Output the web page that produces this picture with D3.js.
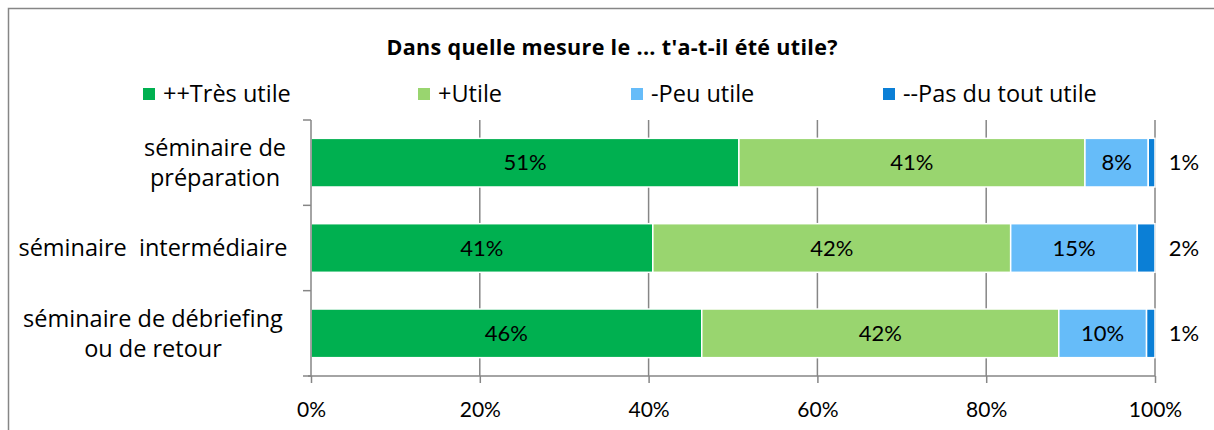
<!DOCTYPE html>
<html>
<head>
<meta charset="utf-8">
<script src="https://cdn.jsdelivr.net/npm/d3@7"></script>
<style>
  body { margin: 0; background: #fff; }
  svg { display: block; font-family: "Open Sans", Lato, sans-serif; }
</style>
</head>
<body>
<div id="chart"></div>
<script>
const categories = [
  ["séminaire de", "préparation"],
  ["séminaire  intermédiaire"],
  ["séminaire de débriefing", "ou de retour"]
];
const series = ["++Très utile", "+Utile", "-Peu utile", "--Pas du tout utile"];
const colors = ["#00b050", "#99d56f", "#66bcf9", "#0b7fd6"];
// values (percent)
const tresUtile = [50.7, 40.5, 46.3];
const utile = [41.0, 42.4, 42.3];
const peuUtile = [7.5, 15.0, 10.4];
const pasDuTout = [0.8, 2.1, 1.0];
const labels = [
  ["51%", "41%", "8%", "1%"],
  ["41%", "42%", "15%", "2%"],
  ["46%", "42%", "10%", "1%"]
];
const xTicks = [0, 20, 40, 60, 80, 100];

const width = 1214, height = 430;
const margin = { top: 120, bottom: 54, left: 311, right: 59 };
const numFont = "Lato, 'Open Sans', sans-serif";

const svg = d3.select("#chart").append("svg")
  .attr("width", width)
  .attr("height", height);

// outer frame (only top and left visible)
svg.append("path")
  .attr("d", `M8.5,${height} V8.5 H${width}`)
  .attr("fill", "none")
  .attr("stroke", "#868686")
  .attr("stroke-width", 1.5);

svg.append("text")
  .attr("x", 612)
  .attr("y", 55)
  .attr("text-anchor", "middle")
  .attr("font-weight", "bold")
  .attr("font-size", 21.5)
  .attr("textLength", 451)
  .text("Dans quelle mesure le ... t'a-t-il été utile?");

const legendX = [143, 418, 631, 883];
const legend = svg.append("g").selectAll("g")
  .data(series)
  .enter()
  .append("g")
  .attr("transform", (d, i) => `translate(${legendX[i]}, 88)`);
legend.append("rect")
  .attr("width", 12).attr("height", 12)
  .attr("fill", (d, i) => colors[i]);
legend.append("text")
  .attr("x", 20).attr("y", 6)
  .attr("dy", "0.35em")
  .attr("font-size", 23.5)
  .text(d => d);

const rows = categories.map((c, i) => [tresUtile[i], utile[i], peuUtile[i], pasDuTout[i]]);
const stackData = rows.map((r, i) => {
  const o = { idx: i };
  series.forEach((s, j) => o[s] = r[j]);
  return o;
});
const stacked = d3.stack().keys(series)(stackData);

const xScale = d3.scaleLinear()
  .domain([0, 100])
  .range([margin.left, width - margin.right]);
const yScale = d3.scaleBand()
  .domain(d3.range(categories.length))
  .range([margin.top, height - margin.bottom])
  .paddingInner(0.43)
  .paddingOuter(0.215);

const bottom = height - margin.bottom;

// vertical gridlines
svg.append("g")
  .selectAll("line")
  .data(xTicks.slice(1))
  .enter()
  .append("line")
  .attr("x1", d => xScale(d)).attr("x2", d => xScale(d))
  .attr("y1", margin.top).attr("y2", bottom)
  .attr("stroke", "#868686")
  .attr("stroke-width", 1.5);

// bars
const layer = svg.append("g")
  .selectAll("g")
  .data(stacked)
  .enter()
  .append("g")
  .attr("fill", (d, i) => colors[i]);
layer.selectAll("rect")
  .data(d => d)
  .enter()
  .append("rect")
  .attr("x", d => xScale(d[0]))
  .attr("y", d => yScale(d.data.idx))
  .attr("width", d => xScale(d[1]) - xScale(d[0]))
  .attr("height", yScale.bandwidth())
  .attr("stroke", "#fff")
  .attr("stroke-width", 1.5);

// value labels
layer.each(function (s, j) {
  d3.select(this).selectAll("text")
    .data(s)
    .enter()
    .append("text")
    .attr("x", d => j === 3 ? xScale(100) + 29 : (xScale(d[0]) + xScale(d[1])) / 2)
    .attr("y", d => yScale(d.data.idx) + yScale.bandwidth() / 2)
    .attr("dy", "0.35em")
    .attr("text-anchor", "middle")
    .attr("font-family", numFont)
    .attr("font-size", 22)
    .attr("fill", "#000")
    .text(d => labels[d.data.idx][j]);
});

// y axis with boundary ticks
const bandStep = yScale.step();
const yAxis = svg.append("g");
yAxis.append("line")
  .attr("x1", margin.left).attr("x2", margin.left)
  .attr("y1", margin.top).attr("y2", bottom)
  .attr("stroke", "#868686").attr("stroke-width", 1.5);
yAxis.selectAll(".bt")
  .data(d3.range(categories.length + 1))
  .enter()
  .append("line")
  .attr("x1", margin.left - 8).attr("x2", margin.left)
  .attr("y1", i => margin.top + i * bandStep)
  .attr("y2", i => margin.top + i * bandStep)
  .attr("stroke", "#868686").attr("stroke-width", 1.5);

const catLabel = svg.append("g")
  .selectAll("text")
  .data(categories)
  .enter()
  .append("text")
  .attr("text-anchor", "middle")
  .attr("font-size", 23.5)
  .style("white-space", "pre")
  .attr("x", (d, i) => i === 0 ? 215 : 153)
  .attr("y", (d, i) => yScale(i) + yScale.bandwidth() / 2);
catLabel.selectAll("tspan")
  .data(d => d)
  .enter()
  .append("tspan")
  .attr("x", function () { return this.parentNode.getAttribute("x"); })
  .attr("dy", (d, k, all) => k === 0 ? `${0.35 - (all.length - 1) * 0.64}em` : "1.28em")
  .text(d => d);

// x axis
const xAxis = d3.axisBottom(xScale)
  .tickValues(xTicks)
  .tickSize(7)
  .tickFormat(d => d + "%");
const gx = svg.append("g")
  .attr("transform", `translate(0, ${bottom})`)
  .call(xAxis);
gx.select(".domain").attr("stroke", "#868686").attr("stroke-width", 1.5)
  .attr("d", `M${xScale(0) - 3},0H${xScale(100)}`);
gx.selectAll(".tick line").attr("stroke", "#868686").attr("stroke-width", 1.5);
gx.selectAll(".tick text")
  .attr("y", 26)
  .attr("font-size", 21)
  .attr("font-family", numFont)
  .attr("fill", "#000");
</script>
</body>
</html>
